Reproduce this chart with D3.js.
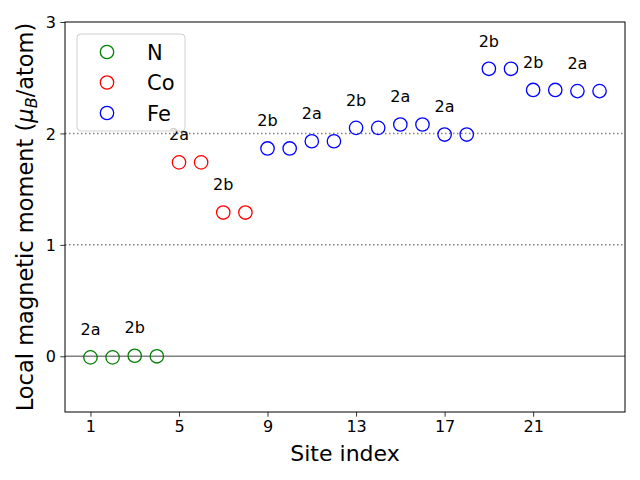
<!DOCTYPE html>
<html><head><meta charset="utf-8">
<script src="https://cdn.jsdelivr.net/npm/d3@7"></script>
<style>body{margin:0;background:#fff}svg{display:block;font-family:"DejaVu Sans",sans-serif}</style>
</head><body><svg id="c" width="640" height="480"></svg>
<script>
const siteIndex = [1,2,3,4,5,6,7,8,9,10,11,12,13,14,15,16,17,18,19,20,21,22,23,24];
const elements = ["N","N","N","N","Co","Co","Co","Co","Fe","Fe","Fe","Fe","Fe","Fe","Fe","Fe","Fe","Fe","Fe","Fe","Fe","Fe","Fe","Fe"];
const moments = [-0.01,-0.01,0.005,0.0,1.74,1.74,1.29,1.29,1.865,1.865,1.93,1.93,2.05,2.05,2.08,2.08,1.99,1.99,2.58,2.58,2.39,2.39,2.38,2.38];
const wyckoffSites = [1,3,5,7,9,11,13,15,17,19,21,23];
const wyckoffLabels = ["2a","2b","2a","2b","2b","2a","2b","2a","2a","2b","2b","2a"];
const legendNames = ["N","Co","Fe"];
const legendColors = ["green","red","blue"];
const xTicks = [1,5,9,13,17,21];
const yTicks = [0,1,2,3];
const refLines = [1,2];

const svg = d3.select("#c");
const L=65,R=625,T=22,B=412;
const x = d3.scaleLinear().domain([-0.15,25.15]).range([L,R]);
const y = d3.scaleLinear().domain([-0.5,3]).range([B,T]);
const color = d3.scaleOrdinal().domain(legendNames).range(legendColors);

// reference lines
svg.append("line").attr("x1",L).attr("x2",R).attr("y1",y(0)).attr("y2",y(0))
  .attr("stroke","gray").attr("stroke-width",1.5);
svg.selectAll(".ref").data(refLines).enter().append("line")
  .attr("x1",L).attr("x2",R).attr("y1",d=>y(d)).attr("y2",d=>y(d))
  .attr("stroke","gray").attr("stroke-width",1.5).attr("stroke-dasharray","1.5,2.5");

// points
svg.selectAll(".pt").data(siteIndex).enter().append("circle")
  .attr("cx",d=>x(d)).attr("cy",(d,i)=>y(moments[i])).attr("r",6.7)
  .attr("fill","none").attr("stroke",(d,i)=>color(elements[i])).attr("stroke-width",1.3);

// labels
svg.selectAll(".lab").data(wyckoffSites).enter().append("text")
  .attr("x",d=>x(d)).attr("y",(d,i)=>y(moments[d-1]+0.2))
  .attr("text-anchor","middle").attr("font-size",16).text((d,i)=>wyckoffLabels[i]);

// axes
const xAxis = d3.axisBottom(x).tickValues(xTicks).tickFormat(d3.format("d")).tickSize(4.7).tickPadding(4);
const gx = svg.append("g").attr("transform",`translate(0,${B})`).call(xAxis);
const yAxis = d3.axisLeft(y).tickValues(yTicks).tickFormat(d3.format("d")).tickSize(4.7).tickPadding(4.5);
const gy = svg.append("g").attr("transform",`translate(${L},0)`).call(yAxis);
[gx,gy].forEach(g=>{g.select(".domain").remove();
  g.selectAll("text").attr("font-size",16).attr("font-family","DejaVu Sans").attr("fill","#000");
  g.selectAll("line").attr("stroke","#000").attr("stroke-width",0.8);});
gy.selectAll("text").attr("dy","0.35em");
svg.append("rect").attr("x",L).attr("y",T).attr("width",R-L).attr("height",B-T)
  .attr("fill","none").attr("stroke","#000").attr("stroke-width",1);

// axis titles
svg.append("text").attr("x",(L+R)/2).attr("y",461).attr("text-anchor","middle")
  .attr("font-size",22).text("Site index");
const yt = svg.append("text").attr("transform",`translate(33,${(T+B)/2}) rotate(-90)`)
  .attr("text-anchor","middle").attr("font-size",22.5);
yt.append("tspan").text("Local magnetic moment (");
yt.append("tspan").attr("font-style","italic").text("μ");
yt.append("tspan").attr("font-style","italic").attr("font-size",16).attr("dy",4).text("B");
yt.append("tspan").attr("dy",-4).text("/atom)");

// legend
const lg = svg.append("g");
lg.append("rect").attr("x",77).attr("y",34).attr("width",108).attr("height",97).attr("rx",4)
  .attr("fill","rgba(255,255,255,0.8)").attr("stroke","#d0d0d0").attr("stroke-width",1);
legendNames.forEach((n,i)=>{
  const cy = 52 + i*30.5;
  lg.append("circle").attr("cx",107).attr("cy",cy).attr("r",6.7).attr("fill","none")
    .attr("stroke",legendColors[i]).attr("stroke-width",1.3);
  lg.append("text").attr("x",147).attr("y",cy+7.5).attr("font-size",21).text(n);
});
</script></body></html>
